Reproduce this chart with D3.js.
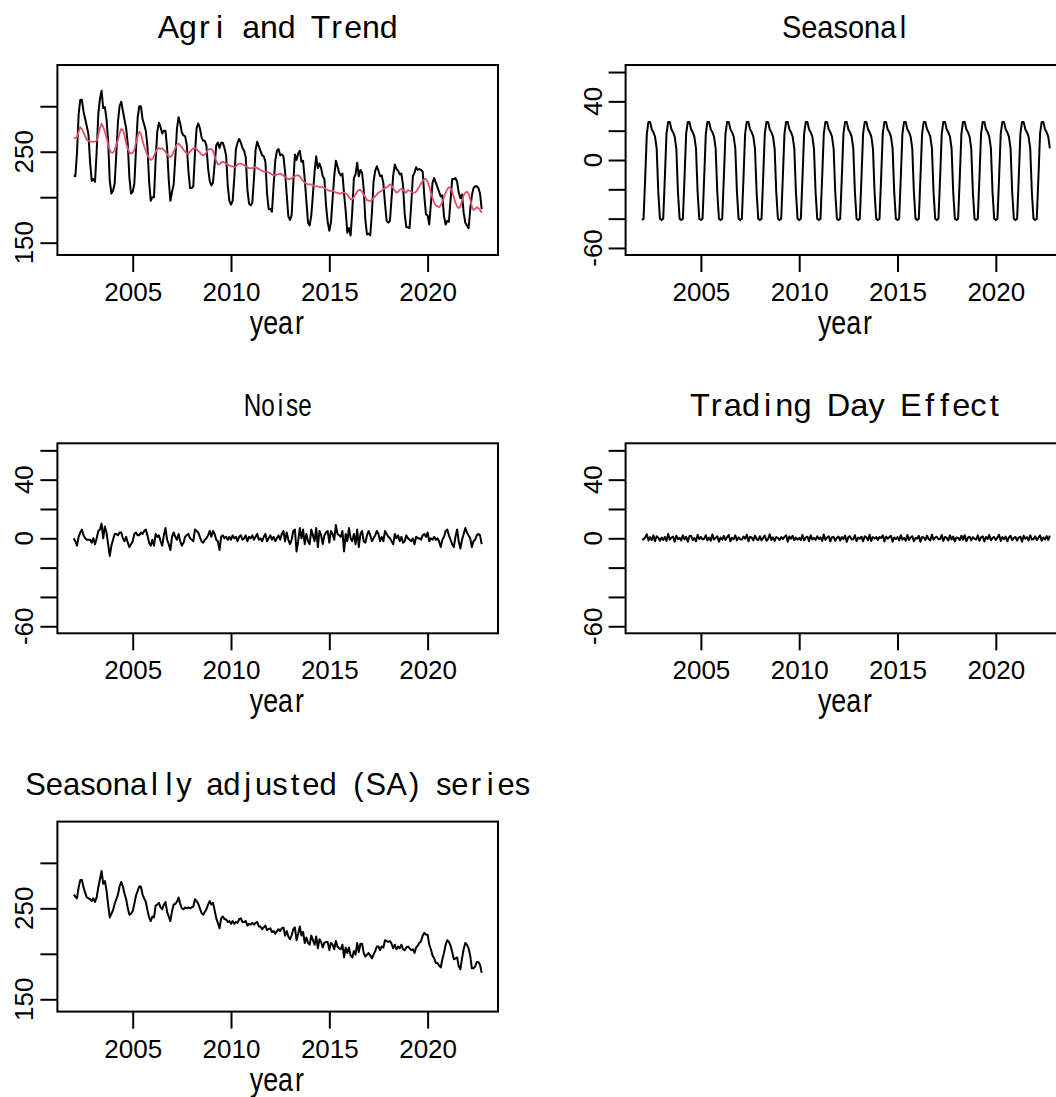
<!DOCTYPE html>
<html>
<head>
<meta charset="utf-8">
<script src="https://cdn.jsdelivr.net/npm/d3@7/dist/d3.min.js"></script>
<style>
  html, body { margin: 0; padding: 0; background: #fff; overflow: hidden; }
  svg { display: block; }
</style>
</head>
<body>
<div id="chart"></div>
<script>
// monthly series, Jan 2002 .. Oct 2022
var start = 2002;
var freq = 12;

var agri = [
  224,223,249,291,307,307,294,286,278,269,238,218,
  220,217,250,291,308,317,298,299,286,262,218,204,
  207,215,248,283,300,305,295,285,276,258,221,204,
  206,215,252,287,300,300,286,280,273,256,218,196,
  200,200,241,272,282,277,270,273,273,254,219,196,
  206,214,243,275,288,281,271,268,267,258,229,210,
  210,212,248,276,281,276,266,262,262,257,232,218,
  213,216,236,257,260,254,260,260,254,246,213,196,
  192,196,221,253,260,264,260,254,251,244,209,193,
  191,194,220,252,261,256,251,246,245,239,204,187,
  187,184,213,240,251,253,246,247,245,228,203,179,
  175,180,215,247,241,248,251,239,240,220,196,172,
  169,180,203,228,245,232,237,232,223,220,191,173,
  163,172,198,223,240,234,227,224,226,204,185,161,
  166,158,184,221,225,238,223,230,227,209,175,159,
  160,158,183,217,229,234,229,223,224,215,193,174,
  172,174,199,224,236,231,229,225,226,213,182,167,
  167,166,192,223,227,233,230,231,230,228,201,181,
  180,170,193,216,221,216,211,206,201,202,179,170,
  174,173,197,220,220,221,217,205,199,203,183,172,
  169,166,186,202,210,212,212,210,204,187
];

var trend = [
  265,265,266,272,277,275,271,267,263,262,261,261,
  261,261,262,268,276,281,277,272,266,258,252,249,
  249,252,257,263,270,275,274,268,259,253,249,248,
  249,252,260,267,272,270,262,256,251,246,243,241,
  242,245,250,253,254,253,254,252,250,247,245,244,
  246,250,254,258,259,257,255,252,250,248,248,250,
  252,254,254,253,251,249,247,246,247,249,252,253,
  253,251,245,240,236,236,238,239,238,237,236,235,
  234,234,233,234,236,237,237,236,235,234,233,232,
  232,232,233,233,232,231,230,229,228,228,228,227,
  226,225,224,224,225,225,226,225,224,222,221,220,
  220,221,222,223,224,224,223,220,218,216,215,214,
  214,214,213,212,212,212,211,211,211,210,209,208,
  207,207,207,206,205,205,204,204,205,205,204,203,
  200,198,198,200,203,206,208,208,206,203,200,197,
  196,196,197,199,201,203,205,206,207,209,210,211,
  212,214,213,210,207,205,206,208,209,208,206,205,
  208,207,206,205,205,206,209,212,215,218,220,220,
  217,212,205,199,194,191,190,189,191,195,200,205,
  209,211,210,206,200,194,190,188,190,196,202,205,
  206,204,198,190,186,187,189,188,186,183
];

var seasonal = [
  -41,-40,-12,18,26,26,21,19,16,8,-22,-40,
  -41,-40,-12,18,26,26,21,19,16,8,-22,-40,
  -41,-40,-12,18,26,26,21,19,16,8,-22,-40,
  -41,-40,-12,18,26,26,21,19,16,8,-22,-40,
  -41,-40,-12,18,26,26,21,19,16,8,-22,-40,
  -41,-40,-12,18,26,26,21,19,16,8,-22,-40,
  -41,-40,-12,18,26,26,21,19,16,8,-22,-40,
  -41,-40,-12,18,26,26,21,19,16,8,-22,-40,
  -41,-40,-12,18,26,26,21,19,16,8,-22,-40,
  -41,-40,-12,18,26,26,21,19,16,8,-22,-40,
  -41,-40,-12,18,26,26,21,19,16,8,-22,-40,
  -41,-40,-12,18,26,26,21,19,16,8,-22,-40,
  -41,-40,-12,18,26,26,21,19,16,8,-22,-40,
  -41,-40,-12,18,26,26,21,19,16,8,-22,-40,
  -41,-40,-12,18,26,26,21,19,16,8,-22,-40,
  -41,-40,-12,18,26,26,21,19,16,8,-22,-40,
  -41,-40,-12,18,26,26,21,19,16,8,-22,-40,
  -41,-40,-12,18,26,26,21,19,16,8,-22,-40,
  -41,-40,-12,18,26,26,21,19,16,8,-22,-40,
  -41,-40,-12,18,26,26,21,19,16,8,-22,-40,
  -41,-40,-12,18,26,26,21,19,16,8
];

var noise = [
  0,-2,-5,1,4,6,2,0,-1,-1,-1,-3,
  0,-4,0,5,6,10,0,8,4,-4,-12,-5,
  -1,3,3,2,4,4,0,-2,1,-3,-6,-4,
  -2,3,4,2,2,4,3,5,6,2,-3,-5,
  -1,-5,3,1,2,-2,-5,2,7,-1,-4,-8,
  1,4,1,-1,3,-2,-5,-3,1,2,3,0,
  -1,-2,6,5,4,1,-2,-3,-1,0,2,5,
  1,5,3,-1,-2,-8,1,2,0,1,-1,1,
  -1,2,0,1,-2,1,2,-1,0,2,-2,1,
  0,2,-1,1,3,-1,0,-2,1,3,-2,0,
  2,-1,1,-2,0,2,-1,3,5,-2,4,-1,
  -4,-1,5,6,-9,-2,7,0,6,-4,3,-2,
  -4,6,2,-2,7,-6,5,2,-4,2,4,5,
  -3,5,3,-1,9,3,2,1,5,-9,3,-2,
  7,0,-2,3,-4,6,-6,3,5,-2,-3,2,
  5,2,-2,0,2,5,3,-2,1,-2,5,3,
  1,0,-2,-4,3,0,2,-2,1,-3,-2,2,
  0,-1,-2,0,-4,1,0,0,-1,2,3,1,
  4,-2,0,-1,1,-1,0,-2,-6,-1,1,5,
  6,2,-1,-4,-6,1,6,-2,-7,-1,3,7,
  4,2,0,-6,-2,-1,2,3,2,-4
];

var tradingDay = [
  -0.9,-0.6,0.5,2.7,-1.5,0.8,-1.2,2.1,-2.0,1.4,0.3,-1.7,
  0.6,-1.1,0.9,-1.8,2.9,-0.9,0.5,1.2,-2.3,1.7,-0.6,0.3,
  -1.4,2.0,-0.8,1.1,-2.4,1.4,1.8,-1.2,0.2,-2.1,2.4,-0.5,
  0.9,-0.8,-0.3,2.1,-1.4,0.5,-1.7,2.6,-0.9,0.3,1.4,-2.3,
  0.5,-0.9,1.7,-1.2,0.8,2.3,-2.0,0.3,-0.6,2.0,-1.4,0.6,
  -0.6,-0.8,1.2,-0.3,2.4,-2.1,1.1,0.5,-1.5,1.8,-0.5,-1.2,
  1.4,-1.4,0.3,1.8,-1.7,-0.5,2.7,-1.1,0.6,-1.8,0.9,0.2,
  -1.1,0.8,-0.5,0.9,2.0,-2.3,1.2,-0.3,1.7,-1.4,0.5,-0.9,
  0.3,-1.2,2.3,-1.5,0.6,1.1,-2.0,2.1,-0.8,0.3,-1.1,1.4,
  -0.5,0.6,-1.8,2.6,-1.2,0.5,1.4,-2.1,0.8,0.9,-1.7,0.3,
  1.2,-1.5,0.9,-0.6,1.8,-2.4,0.8,1.4,-0.9,-0.5,2.1,-1.8,
  0.5,-0.3,1.1,-2.0,1.4,0.6,-1.4,2.4,-1.8,0.8,-0.2,0.9,
  -1.2,0.9,0.2,2.0,-2.1,1.2,-0.3,0.8,1.7,-2.3,0.6,-0.5,
  0.8,-1.4,2.1,-0.9,0.3,-1.7,2.3,-1.1,0.5,1.4,-2.0,0.3,
  -0.3,1.7,-2.3,0.9,0.6,-1.2,1.8,-0.5,-1.4,2.4,-0.9,0.5,
  1.1,-0.6,-0.5,2.3,-1.8,0.9,0.3,-1.5,2.0,-0.8,1.2,-2.1,
  0.6,0.3,-1.2,1.8,-0.9,2.1,-2.0,0.5,1.1,-1.4,0.8,-0.3,
  -0.8,2.0,-1.7,0.6,1.4,-2.1,0.9,-0.5,2.3,-1.5,0.3,0.9,
  -1.1,0.5,2.4,-1.8,0.8,-0.6,1.2,-2.0,0.6,1.7,-1.2,0.3,
  0.9,-1.5,0.5,1.1,-2.3,1.8,-0.3,0.8,-1.4,2.1,-0.9,-0.5,
  1.4,-1.2,0.3,2.0,-1.7,0.6,-0.8,1.5,-1.1,1.8
];

var sa = [
  265,263,261,273,281,281,273,267,262,261,260,258,
  261,257,262,273,282,291,277,280,270,254,240,244,
  248,255,260,265,274,279,274,266,260,250,243,244,
  247,255,264,269,274,274,265,261,257,248,240,236,
  241,240,253,254,256,251,249,254,257,246,241,236,
  247,254,255,257,262,255,250,249,251,250,251,250,
  251,252,260,258,255,250,245,243,246,249,254,258,
  254,256,248,239,234,228,239,241,238,238,235,236,
  233,236,233,235,234,238,239,235,235,236,231,233,
  232,234,232,234,235,230,230,227,229,231,226,227,
  228,224,225,222,225,227,225,228,229,220,225,219,
  216,220,227,229,215,222,230,220,224,212,218,212,
  210,220,215,210,219,206,216,213,207,212,213,213,
  204,212,210,205,214,208,206,205,210,196,207,201,
  207,198,196,203,199,212,202,211,211,201,197,199,
  201,198,195,199,203,208,208,204,208,207,215,214,
  213,214,211,206,210,205,208,206,210,205,204,207,
  208,206,204,205,201,207,209,212,214,220,223,221,
  221,210,205,198,195,190,190,187,185,194,201,210,
  215,213,209,202,194,195,196,186,183,195,205,212,
  210,206,198,184,184,186,191,191,188,179
];

var xTicks = [2005, 2010, 2015, 2020];
var levelLim = [144.2, 337.6];
var levelTicks = [150, 200, 250, 300];
var levelLabels = [150, 250];
var compLim = [-60, 60];
var compTicks = [-60, -40, -20, 0, 20, 40, 60];
var compLabels = [-60, 0, 40];

var W = 1056, H = 1097;
var colX = [57.4, 625.6], boxW = 440.6;
var rowY = [65, 443.3, 821.6], boxH = 190;
var tickFont = '"Liberation Sans", Arial, sans-serif';

var panels = [
  { title: 'Agri and Trend', col: 0, row: 0, lim: levelLim, ticks: levelTicks, labels: levelLabels,
    lines: [[agri, '#000', 2], [trend, '#DF536B', 1.8]], tw: 240 },
  { title: 'Seasonal', col: 1, row: 0, lim: compLim, ticks: compTicks, labels: compLabels,
    lines: [[seasonal, '#000', 2]], tw: 128 },
  { title: 'Noise', col: 0, row: 1, lim: compLim, ticks: compTicks, labels: compLabels,
    lines: [[noise, '#000', 2]], tw: 68 },
  { title: 'Trading Day Effect', col: 1, row: 1, lim: compLim, ticks: compTicks, labels: compLabels,
    lines: [[tradingDay, '#000', 2]], tw: 312 },
  { title: 'Seasonally adjusted (SA) series', col: 0, row: 2, lim: levelLim, ticks: levelTicks, labels: levelLabels,
    lines: [[sa, '#000', 2]], tw: 505 }
];

var svg = d3.select('#chart').append('svg')
    .attr('width', W)
    .attr('height', H)
    .attr('viewBox', `0 0 ${W} ${H}`);

svg.append('rect').attr('width', W).attr('height', H).attr('fill', '#fff');

// R-like text: narrow glyphs get a wider cell, then squeezed to the measured width
var rText = (g, str, cx, base, size, width) => {
  let t = g.append('text')
      .attr('font-family', tickFont)
      .attr('font-size', size)
      .attr('fill', '#000')
      .text(str);
  let node = t.node();
  let minAdv = size * 0.47;
  let xs = [], pos = 0;
  for (let k = 0; k < str.length; k++) {
    let w = node.getSubStringLength(k, 1);
    let adv = Math.max(w, minAdv);
    xs.push((pos + (adv - w) / 2).toFixed(2));
    pos += adv;
  }
  let sx = width / pos;
  t.attr('x', xs.join(' '))
    .attr('y', 0)
    .attr('transform', `translate(${ cx - width / 2 }, ${ base }) scale(${ sx.toFixed(4) }, 1)`);
  return t;
};

panels.forEach((p) => {
  let x0 = colX[p.col], y0 = rowY[p.row];
  let span = (p.lines[0][0].length - 1) / freq;
  let pad = span * 0.04;

  let x = d3.scaleLinear()
      .domain([start - pad, start + span + pad])
      .range([x0, x0 + boxW]);

  let lp = (p.lim[1] - p.lim[0]) * 0.04;
  let y = d3.scaleLinear()
      .domain([p.lim[0] - lp, p.lim[1] + lp])
      .range([y0 + boxH, y0]);

  let g = svg.append('g');

  // series
  let line = d3.line()
      .x((d, i) => x(start + i / freq))
      .y((d) => y(d));

  p.lines.forEach((l) => {
    g.append('path')
      .datum(l[0])
      .attr('d', line)
      .attr('fill', 'none')
      .attr('stroke', l[1])
      .attr('stroke-width', l[2])
      .attr('stroke-linejoin', 'round');
  });

  // x axis
  let xa = g.append('g')
      .attr('transform', `translate(0, ${ y0 + boxH })`)
      .call(d3.axisBottom(x).tickValues(xTicks).tickSize(17).tickPadding(12).tickFormat(d3.format('d')));
  xa.select('.domain').remove();
  xa.selectAll('line').attr('stroke', '#000').attr('stroke-width', 2);
  xa.selectAll('text')
    .attr('font-family', tickFont)
    .attr('font-size', 26)
    .attr('fill', '#000')
    .attr('dy', null)
    .attr('y', 46);

  // y axis
  let ya = g.append('g')
      .attr('transform', `translate(${ x0 }, 0)`)
      .call(d3.axisLeft(y).tickValues(p.ticks).tickSize(17).tickFormat(''));
  ya.select('.domain').remove();
  ya.selectAll('line').attr('stroke', '#000').attr('stroke-width', 2);

  p.labels.forEach((v) => {
    g.append('text')
      .attr('font-family', tickFont)
      .attr('font-size', 26)
      .attr('text-anchor', 'middle')
      .attr('transform', `translate(${ x0 - 24 }, ${ y(v) }) rotate(-90)`)
      .text(v);
  });

  // box
  g.append('rect')
    .attr('x', x0).attr('y', y0)
    .attr('width', boxW).attr('height', boxH)
    .attr('fill', 'none')
    .attr('stroke', '#000')
    .attr('stroke-width', 2);

  // title and x label
  let cx = x0 + boxW / 2;
  rText(g, p.title, cx, y0 - 27, 32, p.tw);
  rText(g, 'year', cx, y0 + boxH + 79, 34, 56);
});
</script>
</body>
</html>
